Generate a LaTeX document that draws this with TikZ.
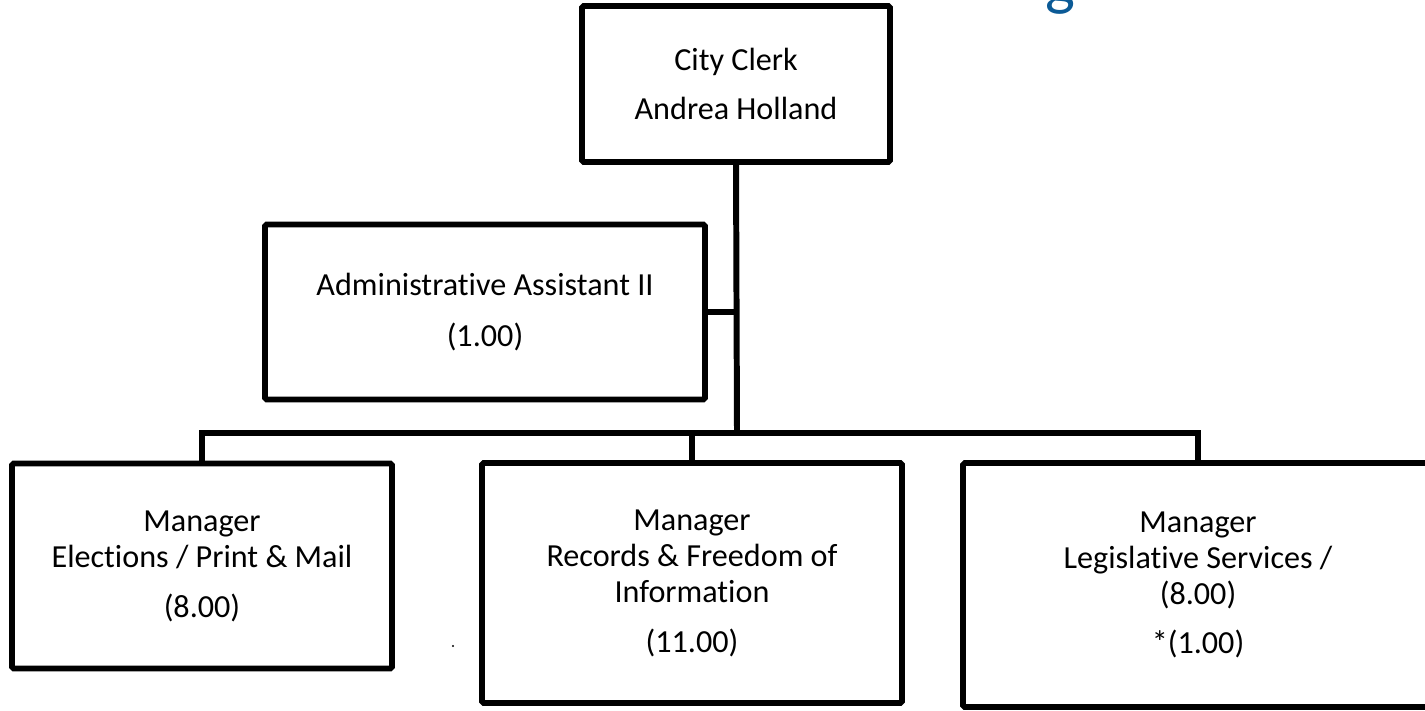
\documentclass[tikz,border=0pt]{standalone}
\usepackage{fontspec}
\setmainfont{Carlito}[Ligatures=NoCommon]
\usepackage{tikz}
\usetikzlibrary{positioning,calc}
\definecolor{titleblue}{RGB}{11,90,150}

\begin{document}
\begin{tikzpicture}[
    x=.02cm,
    y=-.02cm,
    post/.style={draw,line width=3.3pt,rounded corners=1pt,align=center,
      inner sep=0pt,font=\fontsize{18.3}{20.5}\selectfont},
    link/.style={line width=3.4pt}
    ]
    \useasboundingbox (0,0) rectangle (1425,710);

    % title fragment
    \node[anchor=base,text=titleblue,inner sep=0pt,font=\fontsize{36}{40}\selectfont]
      (title) at (1060,4) {g};

    \node[post,minimum width=6.16cm,minimum height=3.12cm] (clerk) at (736,84)
      {City Clerk\\[7pt]Andrea Holland};
    \node[post,minimum width=8.8cm,minimum height=3.5cm] (admin) at (485,312)
      {Administrative Assistant II\\[9pt](1.00)};

    \node[post,minimum width=7.6cm,minimum height=4.1cm] (elect) at (202,566)
      {Manager\\Elections / Print \& Mail\\[8pt](8.00)};
    \node[post,minimum width=8.4cm,minimum height=4.8cm] (records) at (692,583)
      {Manager\\Records \& Freedom of\\Information\\[8pt](11.00)};
    \node[post,minimum width=9.4cm,minimum height=4.88cm] (legis) at (1198,585)
      {Manager\\Legislative Services /\\(8.00)\\[7pt]*(1.00)};

    \coordinate (bus) at (737,433);

    % trunk
    \draw[link] (clerk.south) -- (bus);
    \draw[link] (admin.east) -- (admin.east -| bus);
    % bus
    \draw[link] (elect.north) |- (bus) -| (legis.north);
    \draw[link] (records.north) -- (records.north |- bus);

    \fill (453,646) circle (1.1);
  \end{tikzpicture}
\end{document}
